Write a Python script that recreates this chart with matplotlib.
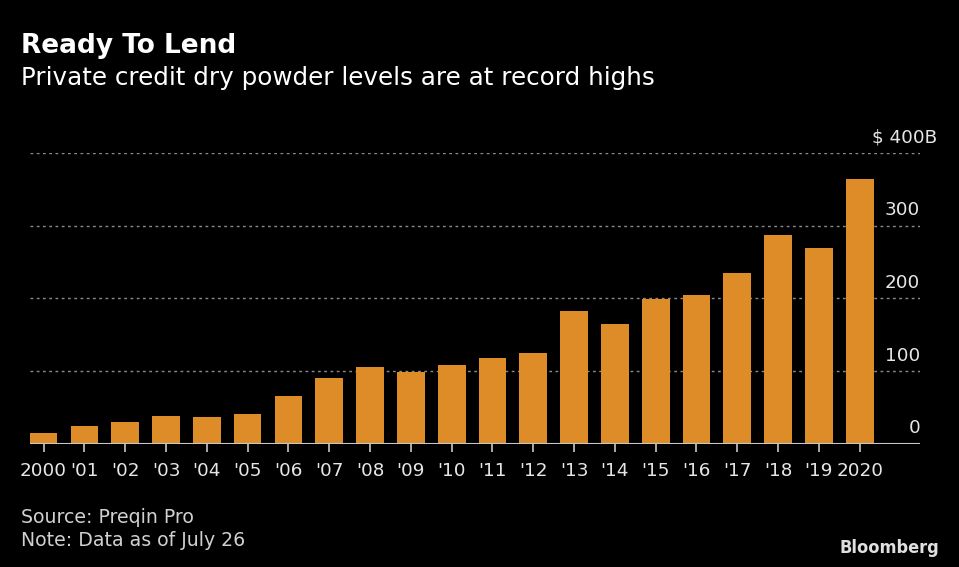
import matplotlib
matplotlib.use('Agg')
from matplotlib import pyplot as plt

years = ['2000', "'01", "'02", "'03", "'04", "'05", "'06", "'07", "'08", "'09", "'10",
         "'11", "'12", "'13", "'14", "'15", "'16", "'17", "'18", "'19", '2020']
dry_powder = [14.3, 24.4, 30.3, 38.2, 36.3, 40.5, 66.1, 90, 106, 98.8, 108,
              118.5, 124.5, 182.4, 164.9, 198.9, 204.4, 234.7, 287, 269, 365]
y_ticks = [0, 100, 200, 300, 400]
y_labels = ['0', '100', '200', '300', '$ 400B']

plt.rcParams['font.family'] = ['DejaVu Sans']
fig = plt.figure(figsize=(9.59, 5.67), dpi=100, facecolor='black')
ax = fig.add_axes([0.031, 0.2175, 0.9284, 0.5121], facecolor='black')

x = list(range(len(years)))
ax.bar(x, dry_powder, width=0.68, color='#DE8C28', zorder=2)

ax.set_xlim(-0.34, 21.48)
ax.set_ylim(0, 400)
for s in ax.spines.values():
    s.set_visible(False)
for v in y_ticks[1:]:
    ax.axhline(v, color='#8a8a8a', linestyle=(0, (2, 2.5)), linewidth=1, zorder=1)
ax.axhline(0, color='#c8c8c8', linewidth=1.5, zorder=3)

ax.set_yticks([])
ax.set_xticks(x)
ax.set_xticklabels(years, color='#e6e6e6', fontsize=13.2)
ax.tick_params(axis='x', length=6, width=1.2, color='#c8c8c8', pad=7)

for v, lab in zip(y_ticks, y_labels):
    xr = 21.48 if v < 400 else 21.9
    ax.text(xr, v + 9, lab, color='#e6e6e6', fontsize=13.2, ha='right', va='bottom')

fig.text(0.022, 0.918, 'Ready To Lend', color='white', fontsize=19, fontweight='bold', va='center')
fig.text(0.022, 0.862, 'Private credit dry powder levels are at record highs', color='white',
         fontsize=17.7, va='center')
fig.text(0.022, 0.088, 'Source: Preqin Pro', color='#d0d0d0', fontsize=13.6, va='center')
fig.text(0.022, 0.047, 'Note: Data as of July 26', color='#d0d0d0', fontsize=13.6, va='center')
fig.text(0.979, 0.033, 'Bloomberg', color='#e0e0e0', fontsize=13, fontweight='bold',
         fontstretch='condensed', ha='right', va='center')

fig.savefig('out.png', dpi=100, facecolor='black')
